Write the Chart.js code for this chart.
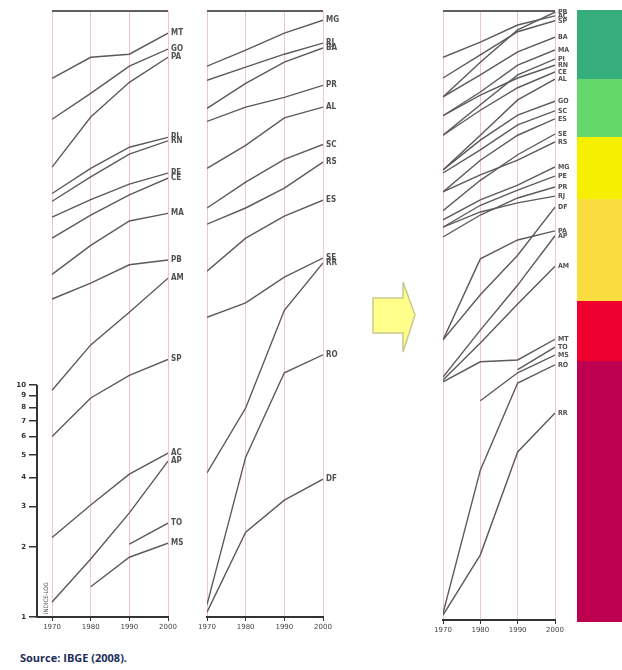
<!DOCTYPE html>
<html>
<head>
<meta charset="utf-8">
<script src="https://cdn.jsdelivr.net/npm/chart.js@4"></script>
<style>
  body { margin: 0; background: #fff; }
  #wrap { position: relative; width: 622px; height: 670px; overflow: hidden; background: #fff; }
  canvas { position: absolute; top: 0; }
  .bar { position: absolute; left: 577px; width: 45px; }
  #src { position: absolute; left: 20px; top: 650px; font: bold 11px "Open Sans", "DejaVu Sans", sans-serif; color: #1e2d5a; }
  #arrow { position: absolute; left: 365px; top: 275px; }
</style>
</head>
<body>
<div id="wrap">
  <canvas id="cLeft" width="195" height="645" style="left:0px"></canvas>
  <canvas id="cMid" width="155" height="645" style="left:195px"></canvas>
  <svg id="arrow" width="60" height="85">
    <polygon points="8,23 38,23 38,7 50,40 38,77 38,58 8,58" fill="#FFFF8A" stroke="#C9C98E" stroke-width="1.5"/>
  </svg>
  <div class="bar" style="top:10px;height:69px;background:#36AE7C"></div>
  <div class="bar" style="top:79px;height:58px;background:#66D76B"></div>
  <div class="bar" style="top:137px;height:62px;background:#F7EF00"></div>
  <div class="bar" style="top:199px;height:102px;background:#F9DD40"></div>
  <div class="bar" style="top:301px;height:60px;background:#EF002E"></div>
  <div class="bar" style="top:361px;height:261px;background:#BE0050"></div>
  <canvas id="cRight" width="155" height="648" style="left:425px"></canvas>
  <div id="src">Source: IBGE (2008).</div>
</div>
<script>
// ---------- data ----------
const years = [1970, 1980, 1990, 2000];
const logTicks = [1, 2, 3, 4, 5, 6, 7, 8, 9, 10];
const yAxisTitle = "ÍNDICE-LOG";

const leftStates = ['MT','GO','PA','PI','RN','PE','CE','MA','PB','AM','SP','AC','AP','TO','MS'];
const left1970 = [210, 140, 87, 67, 62, 53, 43, 30, 23.5, 9.5, 6.0, 2.2, 1.16, null, null];
const left1980 = [259, 181, 143, 86, 79, 63, 54, 40, 27.5, 14.9, 8.8, 3.04, 1.78, null, 1.35];
const left1990 = [267, 237, 202, 106, 99, 73.5, 66, 51, 33, 20.6, 11.0, 4.13, 2.81, 2.06, 1.81];
const left2000 = [329, 281, 259, 117, 113, 82, 78, 55, 34.6, 28.9, 12.9, 5.09, 4.70, 2.54, 2.08];

const midStates = ['MG','RJ','BA','PR','AL','SC','RS','ES','SE','RR','RO','DF'];
const mid1970 = [237, 206, 156, 137, 86, 58, 49.4, 31, 19.6, 4.18, 1.13, 1.05];
const mid1980 = [278, 235, 200, 158, 108, 75, 58, 43, 22.6, 7.96, 4.89, 2.32];
const mid1990 = [329, 267, 247, 174, 142, 94, 70.7, 53.5, 29.2, 21.0, 11.3, 3.19];
const mid2000 = [374, 298, 284, 196, 158, 109, 91.5, 62.7, 35.3, 33.6, 13.5, 3.93];

const rightStates = ['PB','AC','SP','BA','MA','PI','RN','CE','AL','GO','SC','ES','SE','RS','MG','PE','PR','RJ','DF','PA','AP','AM','MT','TO','MS','RO','RR'];
const right1970 = [85.9, 92.4, 89.0, 85.9, 82.8, 79.6, 82.8, 79.6, 73.9, 73.9, 73.4, 70.3, 67.2, 70.3, 65.7, 64.5, 62.9, 64.5, 46.0, 46.0, 39.9, 39.4, 39.1, null, null, 1.1, 0.8];
const right1980 = [91.6, 94.9, 92.8, 89.5, 86.7, 84.6, 86.2, 83.7, 79.6, 78.8, 77.2, 75.5, 72.2, 73.1, 69.0, 68.1, 66.5, 67.0, 53.4, 59.3, 47.6, 45.5, 42.4, null, 36.0, 24.6, 10.7];
const right1990 = [96.9, 97.7, 96.6, 93.3, 91.1, 89.5, 89.0, 87.4, 85.4, 82.9, 81.3, 79.6, 76.4, 75.5, 71.4, 70.6, 69.3, 68.5, 59.9, 62.4, 55.0, 51.9, 42.7, 41.1, 40.6, 38.9, 27.6];
const right2000 = [99.8, 99.2, 98.4, 95.7, 93.6, 92.1, 91.1, 90.0, 88.8, 85.2, 83.6, 82.3, 79.8, 78.5, 74.4, 72.9, 71.1, 69.6, 67.8, 63.9, 63.1, 58.1, 46.1, 44.8, 43.5, 41.9, 34.0];

// ---------- styling ----------
const LINE = '#5a5a5a';
const PINK = '#f4bfe1';
const AXIS = '#333';

function makeDatasets(states, cols) {
  return states.map((s, i) => ({
    label: s,
    data: years.map((yr, k) => ({ x: yr, y: cols[k][i] })),
    borderColor: LINE,
    borderWidth: 1.4,
    pointRadius: 0,
    tension: 0,
    fill: false,
    spanGaps: false
  }));
}

function xScale(min) {
  return {
    type: 'linear', min: min, max: 2000,
    afterBuildTicks: s => { s.ticks = years.map(v => ({ value: v })); },
    afterFit: s => { s.height = 28; },
    grid: { color: PINK, lineWidth: 1, tickLength: 4, tickColor: AXIS, drawOnChartArea: true },
    border: { display: true, color: AXIS, width: 2 },
    ticks: { autoSkip: false, maxRotation: 0, minRotation: 0, padding: 2, color: '#444',
             font: { size: 7, family: 'DejaVu Sans' }, callback: v => String(v) }
  };
}

const endLabels = {
  id: 'endLabels',
  afterDatasetsDraw(chart, args, opts) {
    const ctx = chart.ctx;
    ctx.save();
    ctx.font = opts.font || 'bold 8px "Liberation Sans Narrow", "DejaVu Sans Condensed", sans-serif';
    ctx.fillStyle = '#505050';
    ctx.textBaseline = 'middle';
    ctx.textAlign = 'left';
    chart.data.datasets.forEach((ds, i) => {
      const meta = chart.getDatasetMeta(i);
      let idx = ds.data.length - 1;
      while (idx >= 0 && ds.data[idx].y == null) idx--;
      const p = meta.data[idx];
      if (p) ctx.fillText(ds.label, p.x + 3, p.y);
    });
    ctx.restore();
  }
};

const topFrame = {
  id: 'topFrame',
  beforeDatasetsDraw(chart) {
    const ctx = chart.ctx, x = chart.scales.x, top = chart.chartArea.top;
    ctx.save();
    ctx.strokeStyle = '#606060';
    ctx.lineWidth = 2;
    ctx.beginPath();
    ctx.moveTo(x.getPixelForValue(years[0]), top);
    ctx.lineTo(x.getPixelForValue(years[years.length - 1]), top);
    ctx.stroke();
    ctx.restore();
  }
};

const logAxisLine = {
  id: 'logAxisLine',
  afterDraw(chart) {
    const ctx = chart.ctx, y = chart.scales.y, left = chart.chartArea.left;
    ctx.save();
    ctx.strokeStyle = AXIS;
    ctx.lineWidth = 2;
    ctx.beginPath();
    ctx.moveTo(left, y.getPixelForValue(logTicks[0]));
    ctx.lineTo(left, y.getPixelForValue(logTicks[logTicks.length - 1]));
    ctx.stroke();
    // vertical axis title
    ctx.translate(left + 9, y.getPixelForValue(logTicks[0]) - 3);
    ctx.rotate(-Math.PI / 2);
    ctx.font = '6px "DejaVu Sans Condensed", "DejaVu Sans", sans-serif';
    ctx.fillStyle = '#555';
    ctx.textAlign = 'left';
    ctx.textBaseline = 'middle';
    ctx.fillText(yAxisTitle, 0, 0);
    ctx.restore();
  }
};

const common = {
  responsive: false,
  animation: false,
  events: [],
  plugins: { legend: { display: false }, tooltip: { enabled: false } }
};

// Left panel
new Chart(document.getElementById('cLeft'), {
  type: 'line',
  data: { datasets: makeDatasets(leftStates, [left1970, left1980, left1990, left2000]) },
  options: Object.assign({}, common, {
    layout: { padding: { top: 11, right: 27, left: 0, bottom: 0 } },
    scales: {
      x: xScale(1966.1),
      y: {
        type: 'logarithmic', min: 1, max: 410,
        afterBuildTicks: s => { s.ticks = logTicks.map(v => ({ value: v })); },
        afterFit: s => { s.width = 37; },
        grid: { drawOnChartArea: false, drawTicks: true, tickLength: 8, tickColor: AXIS, lineWidth: 1.5 },
        border: { display: false },
        ticks: { autoSkip: false, padding: 3, color: '#333',
                 font: { size: 7, weight: 'bold', family: 'DejaVu Sans' }, callback: v => String(v) }
      }
    }
  }),
  plugins: [topFrame, endLabels, logAxisLine]
});

// Middle panel
new Chart(document.getElementById('cMid'), {
  type: 'line',
  data: { datasets: makeDatasets(midStates, [mid1970, mid1980, mid1990, mid2000]) },
  options: Object.assign({}, common, {
    layout: { padding: { top: 11, right: 27, left: 12, bottom: 0 } },
    scales: {
      x: xScale(1970),
      y: { type: 'logarithmic', min: 1, max: 410, display: false }
    }
  }),
  plugins: [topFrame, endLabels]
});

// Right panel
new Chart(document.getElementById('cRight'), {
  type: 'line',
  data: { datasets: makeDatasets(rightStates, [right1970, right1980, right1990, right2000]) },
  options: Object.assign({}, common, {
    layout: { padding: { top: 11, right: 25, left: 18, bottom: 0 } },
    plugins: { legend: { display: false }, tooltip: { enabled: false },
               endLabels: { font: 'bold 7px "Liberation Sans Narrow", "DejaVu Sans Condensed", sans-serif' } },
    scales: {
      x: xScale(1970),
      y: { type: 'linear', min: 0, max: 100, display: false }
    }
  }),
  plugins: [topFrame, endLabels]
});
</script>
</body>
</html>
